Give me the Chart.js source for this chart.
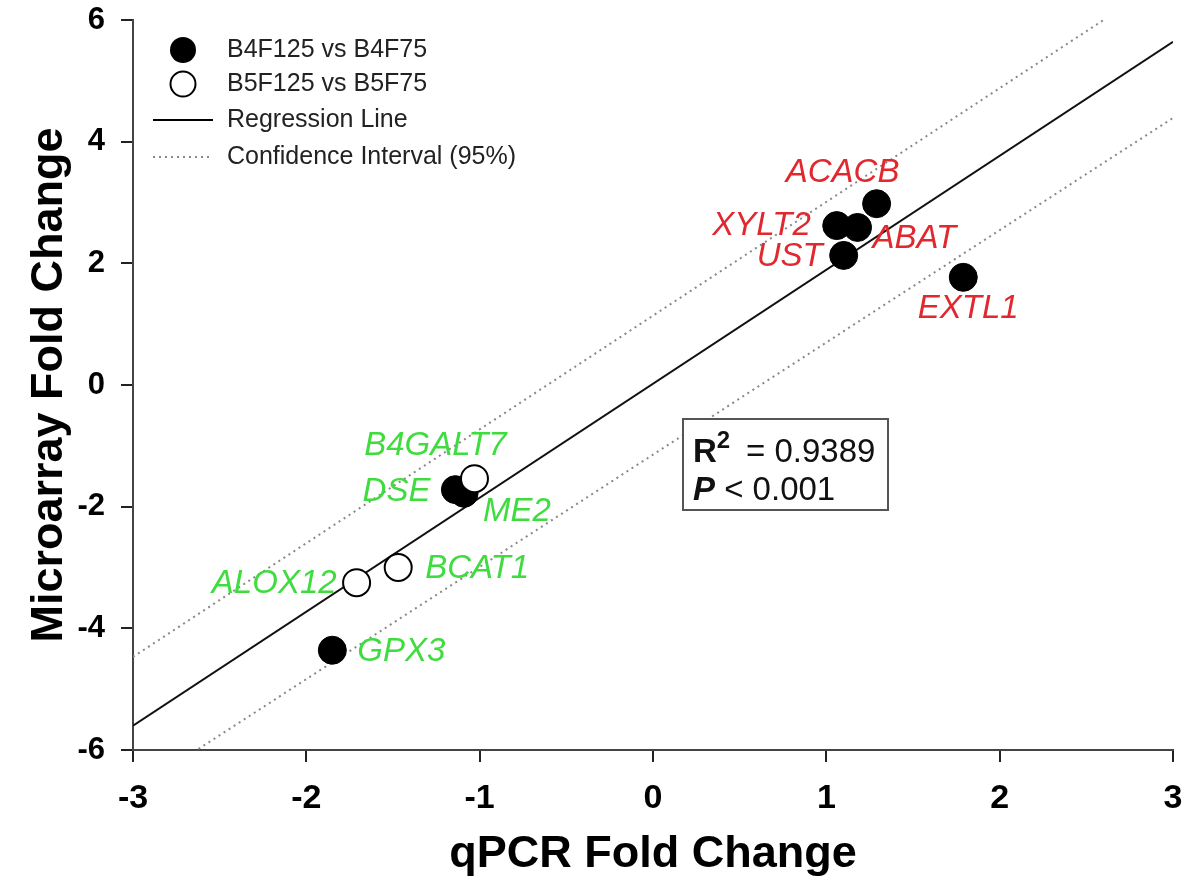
<!DOCTYPE html>
<html>
<head>
<meta charset="utf-8">
<script src="https://cdn.jsdelivr.net/npm/chart.js@4.4.1/dist/chart.umd.min.js"></script>
<style>
  html, body { margin: 0; padding: 0; background: #fff; }
  #wrap { width: 1191px; height: 892px; }
</style>
</head>
<body>
<div id="wrap"><canvas id="chartscatter"></canvas></div>
<script>
// данные
const filledGenes = ["ACACB", "XYLT2", "ABAT", "UST", "EXTL1", "DSE", "ME2", "GPX3"];
const filledQpcr = [1.29, 1.06, 1.18, 1.10, 1.79, -1.14, -1.09, -1.85];
const filledArray = [2.98, 2.62, 2.59, 2.13, 1.77, -1.72, -1.78, -4.36];

const openGenes = ["B4GALT7", "BCAT1", "ALOX12"];
const openQpcr = [-1.03, -1.47, -1.71];
const openArray = [-1.54, -3.00, -3.25];

const lineX = [-3, 3];
const regressionY = [-5.6, 5.64];
const upperCiY = [-4.47, 6.75];
const lowerCiY = [-6.68, 4.39];

const xTicks = [-3, 3, 1];
const yTicks = [-6, 6, 2];

const rSquared = "0.9389";
const pValue = "0.001";

const seriesNames = ["B4F125 vs B4F75", "B5F125 vs B5F75", "Regression Line", "Confidence Interval (95%)"];

// куда ставить подписи генов относительно точки (px)
const filledPlace = [
  [-34, -31, "center"], [-26, 0, "right"], [15, 11, "left"], [-21, 1, "right"],
  [5, 31, "center"], [-25, 2, "right"], [19, 19, "left"], [25, 2, "left"],
];
const openPlace = [[-39, -33, "center"], [27, 1, "left"], [-20, 1, "right"]];

const FONT = "'Liberation Sans', Arial, Helvetica, sans-serif";
const RED = "#e0282e";
const GREEN = "#3fdc3f";
const upGenes = ["ACACB", "XYLT2", "ABAT", "UST", "EXTL1"];

const toPoints = (xs, ys) => xs.map((x, i) => ({ x: x, y: ys[i] }));

/** подписи генов, легенда и рамка с R² */
const annotations = {
  id: "annotations",
  afterDatasetsDraw(chart) {
    const ctx = chart.ctx;
    ctx.save();

    // подписи генов
    ctx.font = "italic 33px " + FONT;
    ctx.textBaseline = "middle";
    const drawGeneLabels = (dsIndex, genes, place) => {
      chart.getDatasetMeta(dsIndex).data.forEach((pt, i) => {
        const [dx, dy, align] = place[i];
        ctx.fillStyle = upGenes.includes(genes[i]) ? RED : GREEN;
        ctx.textAlign = align;
        ctx.fillText(genes[i], pt.x + dx, pt.y + dy);
      });
    };
    drawGeneLabels(1, filledGenes, filledPlace);
    drawGeneLabels(0, openGenes, openPlace);

    // легенда
    const lx = chart.chartArea.left + 50;
    const rows = [50, 84, 120, 157];
    ctx.font = "25px " + FONT;
    ctx.textAlign = "left";
    ctx.fillStyle = "#222";
    seriesNames.forEach((name, i) => {
      ctx.fillText(name, lx + 44, rows[i]);
    });
    ctx.lineWidth = 2;
    ctx.strokeStyle = "#000";
    ctx.fillStyle = "#000";
    ctx.beginPath();
    ctx.arc(lx, rows[0], 13, 0, Math.PI * 2);
    ctx.fill();
    ctx.fillStyle = "#fff";
    ctx.beginPath();
    ctx.arc(lx, rows[1], 12.5, 0, Math.PI * 2);
    ctx.fill();
    ctx.stroke();
    ctx.beginPath();
    ctx.moveTo(lx - 30, rows[2]);
    ctx.lineTo(lx + 30, rows[2]);
    ctx.stroke();
    ctx.strokeStyle = "#888";
    ctx.setLineDash([2, 4]);
    ctx.beginPath();
    ctx.moveTo(lx - 30, rows[3]);
    ctx.lineTo(lx + 30, rows[3]);
    ctx.stroke();
    ctx.setLineDash([]);

    // рамка со статистикой
    const bx = 683, by = 419;
    ctx.strokeStyle = "#555";
    ctx.lineWidth = 2;
    ctx.fillStyle = "#fff";
    ctx.fillRect(bx, by, 205, 91);
    ctx.strokeRect(bx, by, 205, 91);
    ctx.fillStyle = "#111";
    ctx.textBaseline = "alphabetic";
    ctx.font = "bold 33px " + FONT;
    ctx.fillText("R", bx + 10, by + 43);
    const rw = ctx.measureText("R").width;
    ctx.font = "bold 24px " + FONT;
    ctx.fillText("2", bx + 10 + rw, by + 29);
    ctx.font = "33px " + FONT;
    ctx.fillText("= " + rSquared, bx + 63, by + 43);
    ctx.font = "italic bold 33px " + FONT;
    ctx.fillText("P", bx + 10, by + 81);
    const pw = ctx.measureText("P").width;
    ctx.font = "33px " + FONT;
    ctx.fillText(" < " + pValue, bx + 10 + pw, by + 81);

    ctx.restore();
  },
};

const chartScatter = () => {
  const ctx = document.getElementById("chartscatter").getContext("2d");
  const options = {
    type: "scatter",
    plugins: [annotations],
    data: {
      datasets: [
        {
          label: seriesNames[1],
          data: toPoints(openQpcr, openArray),
          backgroundColor: "#fff",
          borderColor: "#000",
          borderWidth: 2,
          pointRadius: 13.5,
          order: 0,
        },
        {
          label: seriesNames[0],
          data: toPoints(filledQpcr, filledArray),
          backgroundColor: "#000",
          borderColor: "#000",
          borderWidth: 1,
          pointRadius: 14,
          order: 1,
        },
        {
          label: seriesNames[2],
          type: "line",
          data: toPoints(lineX, regressionY),
          borderColor: "#111",
          borderWidth: 2,
          pointRadius: 0,
          order: 2,
        },
        {
          label: seriesNames[3],
          type: "line",
          data: toPoints(lineX, upperCiY),
          borderColor: "#888",
          borderWidth: 2,
          borderDash: [2, 4],
          pointRadius: 0,
          order: 3,
        },
        {
          label: seriesNames[3],
          type: "line",
          data: toPoints(lineX, lowerCiY),
          borderColor: "#888",
          borderWidth: 2,
          borderDash: [2, 4],
          pointRadius: 0,
          order: 4,
        },
      ],
    },
    options: {
      responsive: true,
      maintainAspectRatio: false,
      animation: false,
      layout: { padding: { top: 20, right: 18, left: 0, bottom: 0 } },
      plugins: {
        legend: { display: false },
        tooltip: { enabled: false },
      },
      scales: {
        x: {
          type: "linear",
          min: xTicks[0],
          max: xTicks[1],
          ticks: {
            stepSize: xTicks[2],
            color: "#000",
            padding: 16,
            font: { family: FONT, size: 34, weight: "bold" },
          },
          grid: { drawOnChartArea: false, color: "#222", lineWidth: 2, tickLength: 12 },
          border: { color: "#444", width: 2 },
          title: {
            display: true,
            text: "qPCR Fold Change",
            color: "#000",
            font: { family: FONT, size: 45, weight: "bold", lineHeight: 1.2 },
            padding: { top: 0, bottom: 10 },
          },
          afterFit: (scale) => {
            scale.height = 142;
            scale.paddingLeft = 0;
            scale.paddingRight = 0;
          },
        },
        y: {
          type: "linear",
          min: yTicks[0],
          max: yTicks[1],
          ticks: {
            stepSize: yTicks[2],
            color: "#000",
            padding: 16,
            font: { family: FONT, size: 31, weight: "bold" },
          },
          grid: { drawOnChartArea: false, color: "#222", lineWidth: 2, tickLength: 12 },
          border: { color: "#444", width: 2 },
          title: {
            display: true,
            text: "Microarray Fold Change",
            color: "#000",
            font: { family: FONT, size: 45, weight: "bold", lineHeight: 1.2 },
            padding: { top: 23, bottom: 0 },
          },
          afterFit: (scale) => {
            scale.width = 133;
            scale.paddingTop = 0;
            scale.paddingBottom = 0;
          },
        },
      },
    },
  };
  new Chart(ctx, options);
};
chartScatter();
</script>
</body>
</html>
